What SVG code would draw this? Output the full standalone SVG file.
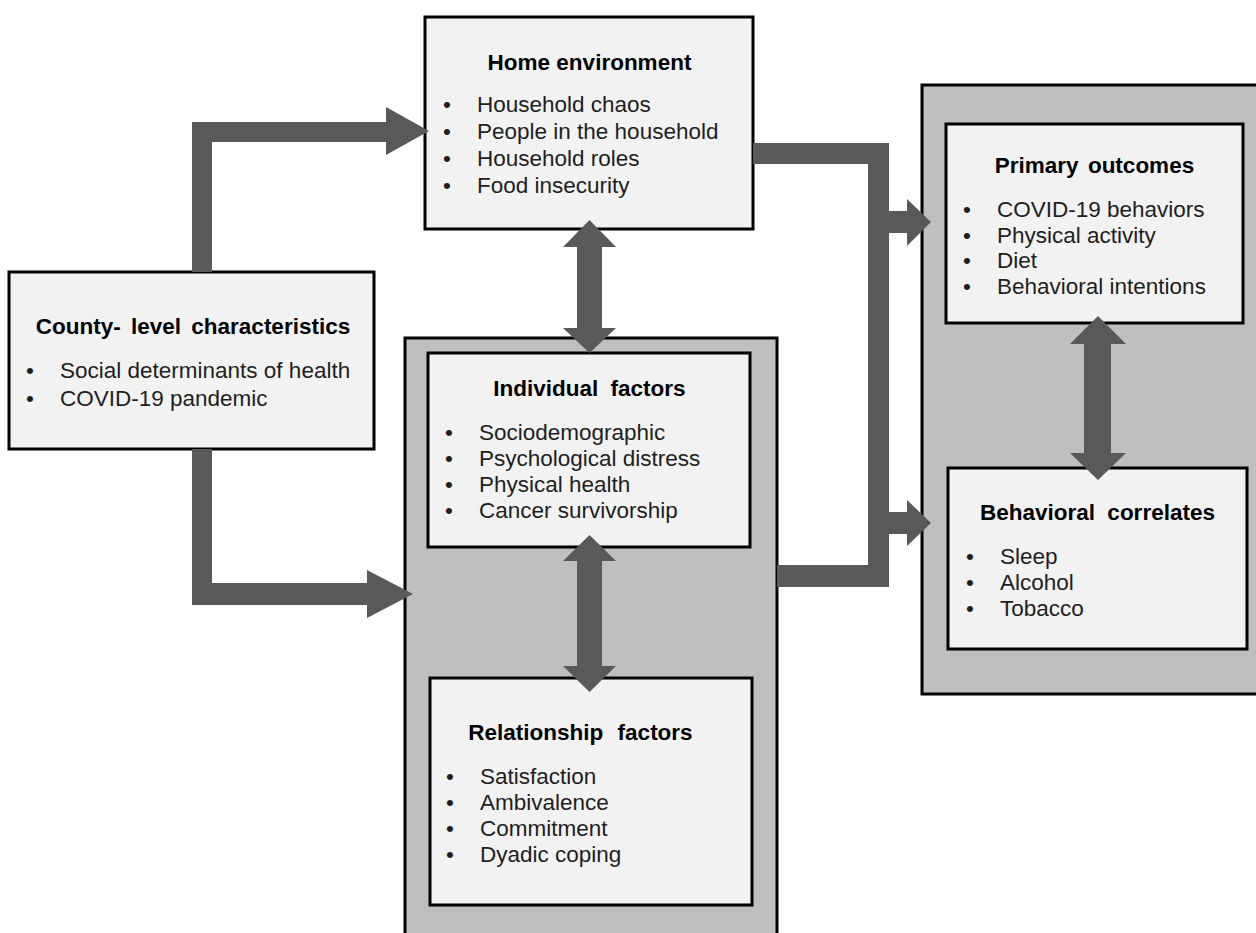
<svg xmlns="http://www.w3.org/2000/svg" width="1256" height="933" viewBox="0 0 1256 933">
  <style>
    .box { fill: #f2f2f2; stroke: #000; stroke-width: 3; }
    .cont { fill: #bfbfbf; stroke: #000; stroke-width: 3; }
    .conn { fill: #595959; stroke: none; }
    .title { font-family: 'Liberation Sans', Arial, sans-serif; font-size: 22.5px; font-weight: bold; fill: #000; text-anchor: middle; }
    .item { font-family: 'Liberation Sans', Arial, sans-serif; font-size: 22.5px; fill: #1e1e1e; }
  </style>
  <rect width="1256" height="933" fill="#ffffff"/>

  <g id="container-left">
    <rect class="cont" x="405" y="338" width="372" height="610"/>
  </g>
  <g id="container-right">
    <rect class="cont" x="922" y="85" width="345" height="609"/>
  </g>

  <g id="home-environment">
    <rect class="box" x="425" y="17" width="328" height="212"/>
    <text class="title" x="589.5" y="70">Home environment</text>
    <text class="item" x="443" y="112">•</text><text class="item" x="477" y="112">Household chaos</text>
    <text class="item" x="443" y="139">•</text><text class="item" x="477" y="139">People in the household</text>
    <text class="item" x="443" y="166">•</text><text class="item" x="477" y="166">Household roles</text>
    <text class="item" x="443" y="193">•</text><text class="item" x="477" y="193">Food insecurity</text>
  </g>

  <g id="county-level">
    <rect class="box" x="9" y="272" width="365" height="177"/>
    <text class="title" x="193" y="334" style="word-spacing:4px">County- level characteristics</text>
    <text class="item" x="26" y="378">•</text><text class="item" x="60" y="378">Social determinants of health</text>
    <text class="item" x="26" y="406">•</text><text class="item" x="60" y="406">COVID-19 pandemic</text>
  </g>

  <g id="individual-factors">
    <rect class="box" x="428" y="353" width="322" height="194"/>
    <text class="title" x="589.5" y="396" style="word-spacing:6px">Individual factors</text>
    <text class="item" x="445" y="440">•</text><text class="item" x="479" y="440">Sociodemographic</text>
    <text class="item" x="445" y="466">•</text><text class="item" x="479" y="466">Psychological distress</text>
    <text class="item" x="445" y="492">•</text><text class="item" x="479" y="492">Physical health</text>
    <text class="item" x="445" y="518">•</text><text class="item" x="479" y="518">Cancer survivorship</text>
  </g>

  <g id="relationship-factors">
    <rect class="box" x="430" y="678" width="322" height="227"/>
    <text class="title" x="580.5" y="740" style="word-spacing:8px">Relationship factors</text>
    <text class="item" x="446" y="784">•</text><text class="item" x="480" y="784">Satisfaction</text>
    <text class="item" x="446" y="810">•</text><text class="item" x="480" y="810">Ambivalence</text>
    <text class="item" x="446" y="836">•</text><text class="item" x="480" y="836">Commitment</text>
    <text class="item" x="446" y="862">•</text><text class="item" x="480" y="862">Dyadic coping</text>
  </g>

  <g id="primary-outcomes">
    <rect class="box" x="946" y="124" width="297" height="199"/>
    <text class="title" x="1094.5" y="173" style="word-spacing:3px">Primary outcomes</text>
    <text class="item" x="963" y="217">•</text><text class="item" x="997" y="217">COVID-19 behaviors</text>
    <text class="item" x="963" y="243">•</text><text class="item" x="997" y="243">Physical activity</text>
    <text class="item" x="963" y="268">•</text><text class="item" x="997" y="268">Diet</text>
    <text class="item" x="963" y="294">•</text><text class="item" x="997" y="294">Behavioral intentions</text>
  </g>

  <g id="behavioral-correlates">
    <rect class="box" x="948" y="468" width="299" height="181"/>
    <text class="title" x="1097.5" y="520" style="word-spacing:6px">Behavioral correlates</text>
    <text class="item" x="966" y="564">•</text><text class="item" x="1000" y="564">Sleep</text>
    <text class="item" x="966" y="590">•</text><text class="item" x="1000" y="590">Alcohol</text>
    <text class="item" x="966" y="616">•</text><text class="item" x="1000" y="616">Tobacco</text>
  </g>

  <g id="connectors">
    <polygon class="conn" points="192,272 192,122 386,122 386,107 429,131 386,155 386,142 212,142 212,272"/>
    <polygon class="conn" points="192,449 212,449 212,583 367,583 367,570 413,594 367,618 367,605 192,605"/>
    <polygon class="conn" points="589.5,220 616,247 602,247 602,328 616,328 589.5,353 563,328 577,328 577,247 563,247"/>
    <polygon class="conn" points="589.5,535 616,561 602,561 602,666 616,666 589.5,692 563,666 577,666 577,561 563,561"/>
    <polygon class="conn" points="1098,316 1126,344 1111,344 1111,453 1126,453 1098,480 1070,453 1084,453 1084,344 1070,344"/>
    <polygon class="conn" points="753,143 889,143 889,587 777,587 777,565 868,565 868,164 753,164"/>
    <polygon class="conn" points="889,211 907,211 907,199 931,222 907,246 907,233 889,233"/>
    <polygon class="conn" points="889,512 907,512 907,500 931,523 907,546 907,534 889,534"/>
  </g>
</svg>
